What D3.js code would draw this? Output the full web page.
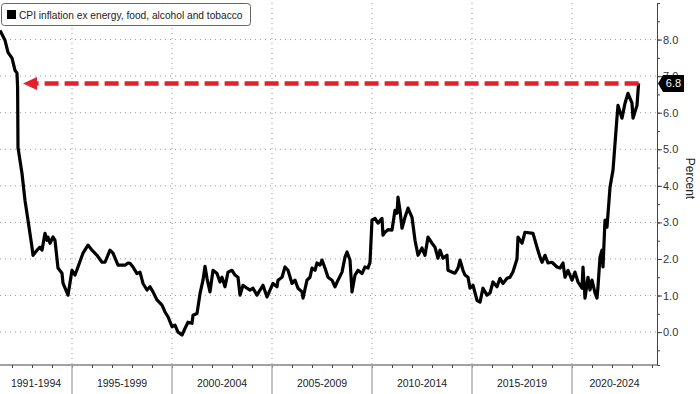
<!DOCTYPE html>
<html>
<head>
<meta charset="utf-8">
<script src="https://cdn.jsdelivr.net/npm/d3@7"></script>
<style>
  body { margin: 0; background: #fff; }
  svg { display: block; font-family: "Liberation Sans", Arial, sans-serif; }
</style>
</head>
<body>
<svg id="chart" width="700" height="394"></svg>
<script>
// decimal years
const years = [
  1991.40, 1991.65, 1991.80, 1992.00, 1992.05, 1992.15, 1992.25, 1992.28, 1992.30, 1992.50,
  1992.65, 1992.80, 1993.00, 1993.05, 1993.25, 1993.40, 1993.50, 1993.65, 1993.75, 1993.80,
  1993.90, 1994.05, 1994.15, 1994.30, 1994.50, 1994.55, 1994.80, 1995.00, 1995.15, 1995.30,
  1995.55, 1995.80, 1996.00, 1996.25, 1996.50, 1996.65, 1996.90, 1997.05, 1997.30, 1997.65,
  1997.80, 1997.90, 1998.05, 1998.25, 1998.40, 1998.55, 1998.75, 1998.90, 1999.05, 1999.25,
  1999.50, 1999.65, 1999.80, 2000.00, 2000.15, 2000.30, 2000.50, 2000.65, 2000.80, 2001.00,
  2001.05, 2001.25, 2001.40, 2001.55, 2001.65, 2001.75, 2001.90, 2002.05, 2002.25, 2002.40,
  2002.50, 2002.65, 2002.80, 2003.00, 2003.15, 2003.30, 2003.40, 2003.55, 2003.75, 2003.90,
  2004.05, 2004.25, 2004.40, 2004.55, 2004.75, 2004.90, 2005.05, 2005.25, 2005.30, 2005.50,
  2005.65, 2005.80, 2006.00, 2006.15, 2006.30, 2006.50, 2006.55, 2006.75, 2006.90, 2007.00,
  2007.15, 2007.25, 2007.40, 2007.50, 2007.65, 2007.80, 2008.00, 2008.15, 2008.30, 2008.50,
  2008.65, 2008.75, 2008.90, 2009.00, 2009.15, 2009.30, 2009.50, 2009.65, 2009.80, 2009.90,
  2010.00, 2010.15, 2010.30, 2010.50, 2010.55, 2010.65, 2010.80, 2011.00, 2011.15, 2011.25,
  2011.30, 2011.40, 2011.50, 2011.65, 2011.80, 2012.00, 2012.15, 2012.30, 2012.50, 2012.65,
  2012.80, 2013.00, 2013.15, 2013.30, 2013.40, 2013.55, 2013.75, 2013.80, 2014.00, 2014.15,
  2014.30, 2014.40, 2014.55, 2014.65, 2014.80, 2014.90, 2015.05, 2015.25, 2015.40, 2015.55,
  2015.75, 2015.90, 2016.05, 2016.25, 2016.40, 2016.55, 2016.75, 2016.90, 2017.05, 2017.25,
  2017.30, 2017.50, 2017.65, 2018.05, 2018.25, 2018.40, 2018.50, 2018.65, 2018.80, 2019.00,
  2019.25, 2019.40, 2019.55, 2019.65, 2019.80, 2020.00, 2020.15, 2020.30, 2020.50, 2020.55,
  2020.65, 2020.80, 2020.90, 2021.00, 2021.15, 2021.25, 2021.30, 2021.40, 2021.50, 2021.55,
  2021.65, 2021.75, 2021.90, 2022.05, 2022.25, 2022.30, 2022.50, 2022.65, 2022.80, 2023.00,
  2023.05, 2023.25, 2023.33
];
const cpi = [
  8.25, 7.98, 7.65, 7.49, 7.38, 7.16, 7.08, 6.70, 5.05, 4.34,
  3.60, 3.06, 2.32, 2.10, 2.24, 2.32, 2.24, 2.70, 2.51, 2.60,
  2.43, 2.60, 2.51, 1.75, 1.61, 1.34, 1.01, 1.69, 1.56, 1.78,
  2.16, 2.38, 2.24, 2.10, 1.91, 1.91, 2.24, 2.16, 1.83, 1.83,
  1.89, 1.88, 1.78, 1.60, 1.64, 1.33, 1.15, 1.24, 1.10, 0.88,
  0.74, 0.55, 0.42, 0.15, 0.19, 0.00, -0.08, 0.10, 0.27, 0.24,
  0.46, 0.51, 1.05, 1.42, 1.80, 1.47, 1.10, 1.69, 1.60, 1.37,
  1.50, 1.24, 1.64, 1.69, 1.56, 1.50, 1.01, 1.28, 1.20, 1.15,
  1.20, 1.01, 1.15, 1.28, 0.96, 1.15, 1.33, 1.24, 1.42, 1.50,
  1.78, 1.69, 1.33, 1.42, 1.20, 1.10, 0.93, 1.42, 1.50, 1.75,
  1.69, 1.89, 1.83, 1.97, 1.75, 1.50, 1.42, 1.24, 1.42, 1.64,
  2.05, 2.19, 1.97, 1.10, 1.56, 1.69, 1.60, 1.78, 1.75, 1.91,
  3.06, 3.11, 2.98, 3.11, 2.65, 2.73, 2.80, 2.79, 3.33, 3.25,
  3.69, 3.33, 2.84, 3.14, 3.39, 3.14, 2.51, 2.10, 2.30, 2.10,
  2.60, 2.43, 2.32, 2.02, 2.24, 2.02, 2.10, 1.69, 1.64, 1.61,
  1.75, 1.97, 1.69, 1.56, 1.50, 1.20, 1.28, 0.87, 0.82, 1.20,
  1.01, 1.07, 1.37, 1.24, 1.47, 1.33, 1.47, 1.50, 1.65, 2.00,
  2.60, 2.43, 2.73, 2.70, 2.32, 2.05, 1.91, 2.10, 1.89, 1.91,
  1.78, 1.75, 1.89, 1.50, 1.69, 1.42, 1.64, 1.37, 1.20, 1.78,
  0.93, 1.50, 1.15, 1.42, 1.07, 0.93, 1.24, 2.05, 2.24, 1.78,
  3.06, 2.87, 3.96, 4.43, 5.87, 6.20, 5.85, 6.26, 6.53, 6.26,
  5.85, 6.20, 6.80
];
const periodLabels = ["1991-1994", "1995-1999", "2000-2004", "2005-2009", "2010-2014", "2015-2019", "2020-2024"];
const periodBreaks = [1995, 2000, 2005, 2010, 2015, 2020];
const yTicks = [0, 1, 2, 3, 4, 5, 6, 7, 8];
const lastValue = 6.8;
const legendText = "CPI inflation ex energy, food, alcohol and tobacco";

const data = years.map((y, i) => ({ t: y, v: cpi[i] }));

const svg = d3.select("#chart");
const plot = { left: 0, right: 657, top: 3, bottom: 365 };

const x = d3.scaleLinear().domain([1991.4, 2024.25]).range([plot.left, plot.right]);
const y = d3.scaleLinear().domain([-0.9, 9.0]).range([plot.bottom, plot.top]);

// dotted grid
svg.append("g")
    .selectAll("line")
    .data(yTicks)
    .join("line")
    .attr("x1", plot.left).attr("x2", plot.right)
    .attr("y1", d => y(d)).attr("y2", d => y(d))
    .attr("stroke", "#9a9a9a")
    .attr("stroke-width", 1)
    .attr("stroke-dasharray", "1,4");

svg.append("g")
    .selectAll("line")
    .data(periodBreaks)
    .join("line")
    .attr("x1", d => x(d)).attr("x2", d => x(d))
    .attr("y1", plot.top).attr("y2", plot.bottom)
    .attr("stroke", "#9a9a9a")
    .attr("stroke-width", 1)
    .attr("stroke-dasharray", "1,4");

// y axis on the right
const yAxis = svg.append("g")
    .attr("transform", `translate(${plot.right},0)`)
    .call(d3.axisRight(y).tickValues(d3.range(-0.5, 9.01, 0.5)).tickSize(3).tickFormat(""));
yAxis.select(".domain").attr("stroke", "#444");
yAxis.selectAll(".tick line").attr("stroke", "#444");

const yMajor = svg.append("g")
    .attr("transform", `translate(${plot.right},0)`)
    .call(d3.axisRight(y).tickValues(yTicks).tickSize(5).tickFormat(d3.format(".1f")));
yMajor.select(".domain").remove();
yMajor.selectAll(".tick line").attr("stroke", "#444");
yMajor.selectAll(".tick text")
    .attr("x", 6)
    .attr("fill", "#333")
    .style("font-size", "11px")
    .style("font-family", "Liberation Sans, Arial, sans-serif");

// x axis
const xAxis = svg.append("g")
    .attr("transform", `translate(0,${plot.bottom})`)
    .call(d3.axisBottom(x).tickValues(d3.range(1992, 2025, 1)).tickSize(3).tickFormat(""));
xAxis.select(".domain").attr("stroke", "#444").attr("d", `M${plot.left},0H${plot.right}`);
xAxis.selectAll(".tick line").attr("stroke", "#444");

svg.append("g")
    .selectAll("line")
    .data(periodBreaks)
    .join("line")
    .attr("x1", d => x(d)).attr("x2", d => x(d))
    .attr("y1", plot.bottom).attr("y2", 394)
    .attr("stroke", "#b0b0b0")
    .attr("stroke-width", 1.5);

const bounds = [x.domain()[0], ...periodBreaks, x.domain()[1]];
svg.append("g")
    .selectAll("text")
    .data(periodLabels)
    .join("text")
    .attr("x", (d, i) => (x(bounds[i]) + x(bounds[i + 1])) / 2)
    .attr("y", 387)
    .attr("text-anchor", "middle")
    .attr("fill", "#222")
    .style("font-size", "10.5px")
    .text(d => d);

// the series
svg.append("path")
    .datum(data)
    .attr("fill", "none")
    .attr("stroke", "#000")
    .attr("stroke-width", 3.2)
    .attr("stroke-linejoin", "round")
    .attr("d", d3.line().x(d => x(d.t)).y(d => y(d.v)));

// red dashed arrow back to the early 90s
const last = data[data.length - 1];
const arrowY = y(lastValue);
svg.append("line")
    .attr("x1", x(last.t)).attr("x2", 35)
    .attr("y1", arrowY).attr("y2", arrowY)
    .attr("stroke", "#e3202b")
    .attr("stroke-width", 4.5)
    .attr("stroke-dasharray", "14,6");
svg.append("path")
    .attr("d", `M23,${arrowY}L37,${arrowY - 6.5}L37,${arrowY + 6.5}Z`)
    .attr("fill", "#e3202b");

// last value tag (drawn over the 7.0 label, as in the source)
const tag = svg.append("g").attr("transform", `translate(${plot.right + 1},${arrowY})`);
tag.append("path")
    .attr("d", "M0,0L5,-8.5H26V8.5H5Z")
    .attr("fill", "#000");
tag.append("text")
    .attr("x", 15.5)
    .attr("y", 4)
    .attr("text-anchor", "middle")
    .attr("fill", "#fff")
    .style("font-size", "11px")
    .text(d3.format(".1f")(lastValue));

// axis title
svg.append("text")
    .attr("transform", `translate(686,${y(4.2)}) rotate(90)`)
    .attr("text-anchor", "middle")
    .attr("fill", "#222")
    .style("font-size", "12px")
    .text("Percent");

// legend
const legend = svg.append("g");
legend.append("rect")
    .attr("x", 1.5).attr("y", 3.5)
    .attr("width", 249).attr("height", 22)
    .attr("rx", 3)
    .attr("fill", "#fff")
    .attr("stroke", "#666");
legend.append("rect")
    .attr("x", 7).attr("y", 10)
    .attr("width", 9).attr("height", 9)
    .attr("fill", "#000");
legend.append("text")
    .attr("x", 19).attr("y", 18.5)
    .attr("fill", "#222")
    .style("font-size", "10.2px")
    .text(legendText);
</script>
</body>
</html>
